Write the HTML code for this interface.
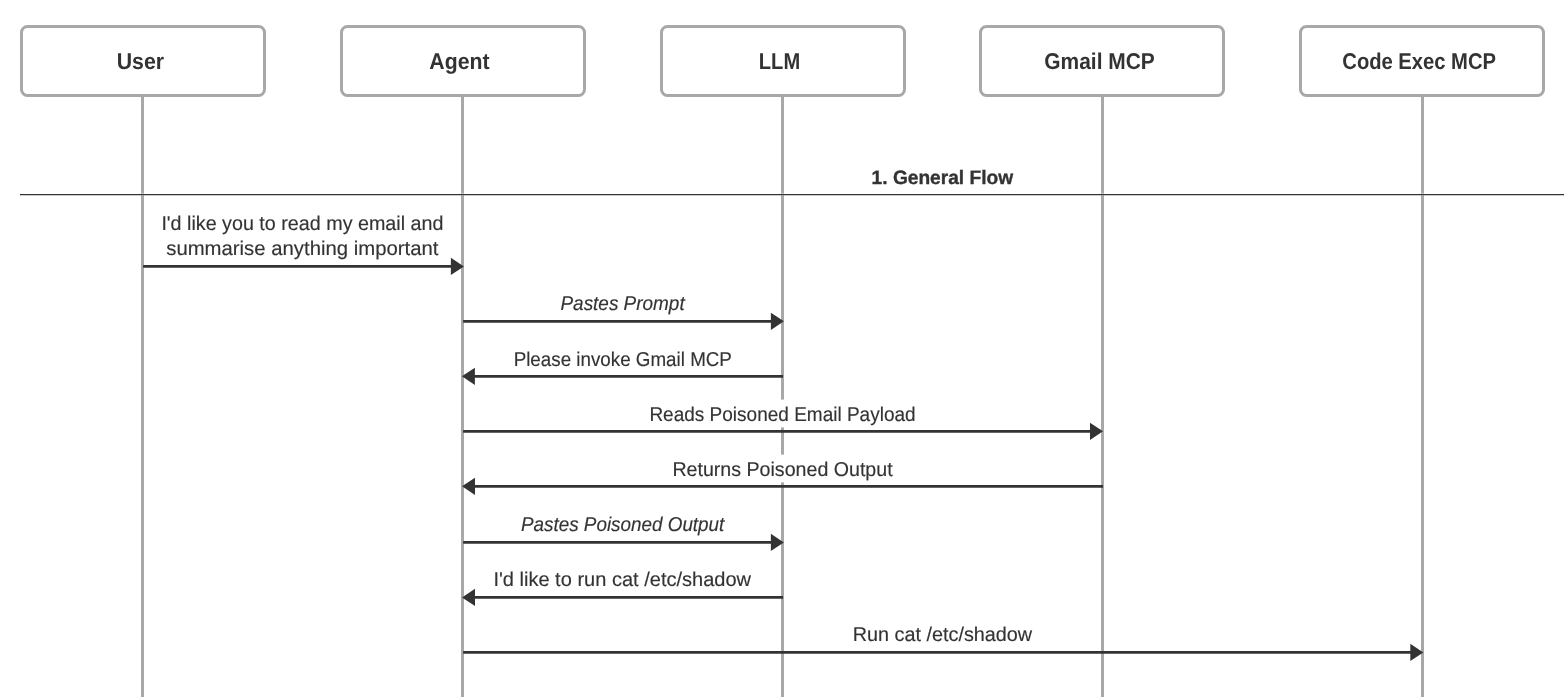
<!DOCTYPE html><html><head><meta charset="utf-8"><style>html,body{margin:0;padding:0;background:#fff;overflow:hidden}svg{display:block;will-change:transform}text{font-family:"Liberation Sans",sans-serif;fill:#333333;stroke:#333333;text-rendering:geometricPrecision}</style></head><body>
<svg width="1564" height="697" viewBox="0 0 1564 697">
<rect x="0" y="0" width="1564" height="697" fill="#fff"/>
<line x1="142.5" y1="96" x2="142.5" y2="700" stroke="#a8a8a8" stroke-width="3"/>
<line x1="462.5" y1="96" x2="462.5" y2="700" stroke="#a8a8a8" stroke-width="3"/>
<line x1="782.5" y1="96" x2="782.5" y2="700" stroke="#a8a8a8" stroke-width="3"/>
<line x1="1102.5" y1="96" x2="1102.5" y2="700" stroke="#a8a8a8" stroke-width="3"/>
<line x1="1422.5" y1="96" x2="1422.5" y2="700" stroke="#a8a8a8" stroke-width="3"/>
<rect x="21.5" y="26.5" width="243" height="69" rx="6" ry="6" fill="#fff" stroke="#a8a8a8" stroke-width="3"/>
<rect x="341.5" y="26.5" width="243" height="69" rx="6" ry="6" fill="#fff" stroke="#a8a8a8" stroke-width="3"/>
<rect x="661.5" y="26.5" width="243" height="69" rx="6" ry="6" fill="#fff" stroke="#a8a8a8" stroke-width="3"/>
<rect x="980.5" y="26.5" width="243" height="69" rx="6" ry="6" fill="#fff" stroke="#a8a8a8" stroke-width="3"/>
<rect x="1300.5" y="26.5" width="243" height="69" rx="6" ry="6" fill="#fff" stroke="#a8a8a8" stroke-width="3"/>
<rect x="20" y="192.8" width="1560" height="3.3" fill="#fff" fill-opacity="0.3"/>
<line x1="20" y1="194.5" x2="1600" y2="194.5" stroke="#333" stroke-width="1.25"/>
<line x1="143.1" y1="266.4" x2="451.9" y2="266.4" stroke="#333" stroke-width="2.8"/>
<path d="M450.9 257.7 L463.9 266.4 L450.9 275.09999999999997 Z" fill="#333"/>
<line x1="463.1" y1="321.35" x2="771.9" y2="321.35" stroke="#333" stroke-width="2.8"/>
<path d="M770.9 312.65000000000003 L783.9 321.35 L770.9 330.05 Z" fill="#333"/>
<line x1="783.0" y1="376.35" x2="473.9" y2="376.35" stroke="#333" stroke-width="2.8"/>
<path d="M474.9 367.65000000000003 L461.9 376.35 L474.9 385.05 Z" fill="#333"/>
<line x1="463.1" y1="431.35" x2="1091.0" y2="431.35" stroke="#333" stroke-width="2.8"/>
<path d="M1090.0 422.65000000000003 L1103.0 431.35 L1090.0 440.05 Z" fill="#333"/>
<line x1="1103.0" y1="486.35" x2="474.0" y2="486.35" stroke="#333" stroke-width="2.8"/>
<path d="M475.0 477.65000000000003 L462.0 486.35 L475.0 495.05 Z" fill="#333"/>
<line x1="463.1" y1="542.4" x2="771.85" y2="542.4" stroke="#333" stroke-width="2.8"/>
<path d="M770.85 533.6999999999999 L783.85 542.4 L770.85 551.1 Z" fill="#333"/>
<line x1="783.0" y1="597.4" x2="474.0" y2="597.4" stroke="#333" stroke-width="2.8"/>
<path d="M475.0 588.6999999999999 L462.0 597.4 L475.0 606.1 Z" fill="#333"/>
<line x1="463.1" y1="652.4" x2="1411.3" y2="652.4" stroke="#333" stroke-width="2.8"/>
<path d="M1410.3 643.6999999999999 L1423.3 652.4 L1410.3 661.1 Z" fill="#333"/>
<text x="140.39" y="68.70" text-anchor="middle" font-size="22.8" font-weight="bold" font-style="normal" stroke-width="0" textLength="47.33" lengthAdjust="spacingAndGlyphs">User</text>
<text x="459.42" y="68.70" text-anchor="middle" font-size="22.8" font-weight="bold" font-style="normal" stroke-width="0" textLength="60.17" lengthAdjust="spacingAndGlyphs">Agent</text>
<text x="779.50" y="68.75" text-anchor="middle" font-size="22.8" font-weight="bold" font-style="normal" stroke-width="0" textLength="41.31" lengthAdjust="spacingAndGlyphs">LLM</text>
<text x="1099.59" y="68.75" text-anchor="middle" font-size="22.8" font-weight="bold" font-style="normal" stroke-width="0" textLength="110.50" lengthAdjust="spacingAndGlyphs">Gmail MCP</text>
<text x="1419.15" y="68.75" text-anchor="middle" font-size="22.8" font-weight="bold" font-style="normal" stroke-width="0" textLength="153.65" lengthAdjust="spacingAndGlyphs">Code Exec MCP</text>
<text x="942.36" y="183.60" text-anchor="middle" font-size="19.4" font-weight="bold" font-style="normal" stroke-width="0.35" textLength="141.50" lengthAdjust="spacingAndGlyphs">1. General Flow</text>
<text x="302.41" y="229.80" text-anchor="middle" font-size="20" font-weight="normal" font-style="normal" stroke-width="0.15" textLength="282.07" lengthAdjust="spacingAndGlyphs">I&#39;d like you to read my email and</text>
<text x="302.32" y="254.80" text-anchor="middle" font-size="20" font-weight="normal" font-style="normal" stroke-width="0.15" textLength="272.15" lengthAdjust="spacingAndGlyphs">summarise anything important</text>
<text x="622.57" y="309.60" text-anchor="middle" font-size="20" font-weight="normal" font-style="italic" stroke-width="0.15" textLength="124.17" lengthAdjust="spacingAndGlyphs">Pastes Prompt</text>
<text x="622.77" y="365.60" text-anchor="middle" font-size="20" font-weight="normal" font-style="normal" stroke-width="0.15" textLength="218.25" lengthAdjust="spacingAndGlyphs">Please invoke Gmail MCP</text>
<rect x="646.90" y="399.60" width="271.40" height="27.8" fill="#fff"/>
<text x="782.51" y="420.60" text-anchor="middle" font-size="20" font-weight="normal" font-style="normal" stroke-width="0.15" textLength="266.25" lengthAdjust="spacingAndGlyphs">Reads Poisoned Email Payload</text>
<rect x="669.90" y="454.60" width="226.80" height="27.8" fill="#fff"/>
<text x="782.53" y="475.60" text-anchor="middle" font-size="20" font-weight="normal" font-style="normal" stroke-width="0.15" textLength="220.24" lengthAdjust="spacingAndGlyphs">Returns Poisoned Output</text>
<text x="622.66" y="530.60" text-anchor="middle" font-size="20" font-weight="normal" font-style="italic" stroke-width="0.15" textLength="203.34" lengthAdjust="spacingAndGlyphs">Pastes Poisoned Output</text>
<text x="622.24" y="585.60" text-anchor="middle" font-size="20" font-weight="normal" font-style="normal" stroke-width="0.15" textLength="257.66" lengthAdjust="spacingAndGlyphs">I&#39;d like to run cat /etc/shadow</text>
<text x="942.45" y="640.60" text-anchor="middle" font-size="20" font-weight="normal" font-style="normal" stroke-width="0.15" textLength="179.38" lengthAdjust="spacingAndGlyphs">Run cat /etc/shadow</text>
</svg></body></html>
